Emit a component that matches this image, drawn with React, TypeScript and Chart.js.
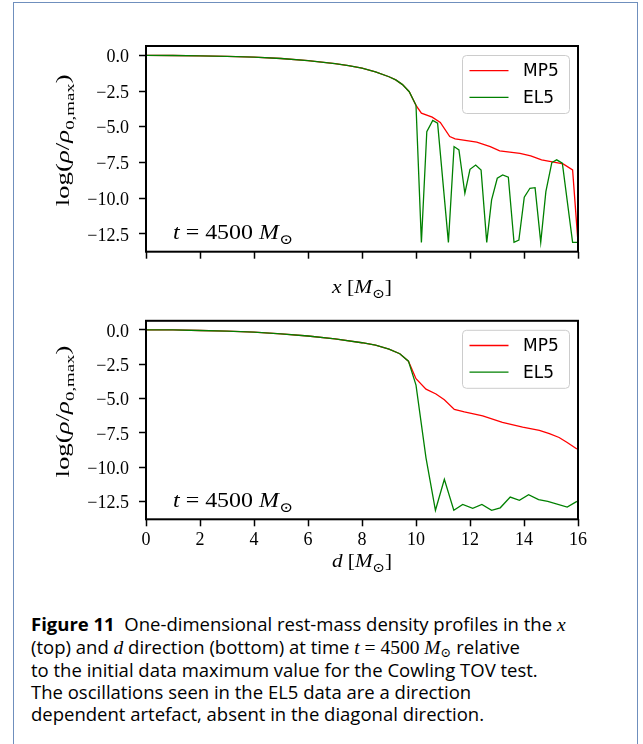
import React, { useEffect, useRef } from "react";
import { Chart, registerables } from "chart.js";
Chart.register(...registerables);

const SERIF = "'Liberation Serif', 'DejaVu Serif', serif";
const SANS = "'DejaVu Sans', sans-serif";

const xTicks = [0, 2, 4, 6, 8, 10, 12, 14, 16];
const yTicks = [0, -2.5, -5, -7.5, -10, -12.5];

// Top panel (x direction)
const topMP5X = [0, 1, 2, 3, 4, 5, 6, 7, 7.5, 8, 8.5, 9, 9.25, 9.5, 9.75, 10, 10.2, 10.6, 10.9, 11.25, 11.45, 12.25, 12.75, 13.1, 13.85, 14.25, 14.65, 15.2, 15.45, 15.8, 16];
const topMP5Y = [0, -0.01, -0.03, -0.07, -0.12, -0.22, -0.37, -0.58, -0.72, -0.9, -1.15, -1.5, -1.72, -2.05, -2.55, -3.5, -4.05, -4.33, -4.7, -5.69, -5.85, -6.08, -6.39, -6.69, -6.86, -7.04, -7.32, -7.51, -7.6, -8.03, -13.1];
const topEL5X = [0, 1, 2, 3, 4, 5, 6, 7, 7.5, 8, 8.5, 9, 9.25, 9.5, 9.75, 10, 10.2, 10.4, 10.62, 10.8, 11.2, 11.41, 11.59, 11.81, 12.0, 12.21, 12.41, 12.62, 12.8, 13.01, 13.21, 13.42, 13.63, 13.81, 14.01, 14.22, 14.41, 14.62, 14.81, 15.03, 15.21, 15.42, 15.8, 16];
const topEL5Y = [0, -0.01, -0.03, -0.07, -0.12, -0.22, -0.37, -0.58, -0.72, -0.9, -1.15, -1.5, -1.72, -2.05, -2.55, -3.5, -13.1, -5.34, -4.56, -4.75, -13.1, -6.39, -6.62, -9.66, -7.98, -7.68, -8.03, -13.1, -10.13, -8.61, -8.38, -8.54, -13.1, -12.94, -9.94, -9.31, -9.27, -13.1, -9.55, -7.51, -7.32, -7.56, -13.1, -13.1];

// Bottom panel (d direction)
const botMP5X = [0, 1, 2, 3, 4, 5, 6, 7, 8, 8.5, 9, 9.4, 9.72, 10.0, 10.37, 10.74, 11.05, 11.42, 11.79, 12.47, 13.2, 13.95, 14.57, 14.94, 15.3, 15.6, 15.96];
const botMP5Y = [0, -0.01, -0.05, -0.1, -0.17, -0.29, -0.45, -0.66, -0.94, -1.12, -1.4, -1.74, -2.28, -3.56, -4.32, -4.67, -5.09, -5.8, -5.98, -6.26, -6.74, -7.09, -7.32, -7.56, -7.84, -8.21, -8.68];
const botEL5X = [0, 1, 2, 3, 4, 5, 6, 7, 8, 8.5, 9, 9.4, 9.72, 10.0, 10.37, 10.72, 11.05, 11.4, 11.73, 12.1, 12.44, 12.8, 13.12, 13.49, 13.83, 14.17, 14.54, 14.88, 15.6, 15.96];
const botEL5Y = [0, -0.01, -0.05, -0.1, -0.17, -0.29, -0.45, -0.66, -0.94, -1.12, -1.4, -1.74, -2.28, -4.03, -9.32, -13.14, -10.89, -13.14, -12.72, -13.0, -12.72, -13.14, -12.96, -12.18, -12.42, -12.01, -12.37, -12.49, -12.91, -12.49];

const seriesNames = ["MP5", "EL5"];
const seriesColors = ["#ff0000", "#008000"];

type Seg = { t: string; it?: boolean; sub?: boolean };

function drawRich(ctx: CanvasRenderingContext2D, segs: Seg[], x: number, y: number, size: number, align: "left" | "center", target: number) {
  const fontFor = (s: Seg) => `${s.it ? "italic " : ""}${s.sub ? size * 0.7 : size}px ${SERIF}`;
  let total = 0;
  const widths = segs.map((s) => {
    ctx.font = fontFor(s);
    const w = ctx.measureText(s.t).width;
    total += w;
    return w;
  });
  const k = target / total;
  const start = align === "center" ? x - target / 2 : x;
  ctx.save();
  ctx.translate(start, y);
  ctx.scale(k, 1);
  ctx.textAlign = "left";
  ctx.textBaseline = "alphabetic";
  let cx = 0;
  segs.forEach((s, i) => {
    ctx.font = fontFor(s);
    ctx.fillText(s.t, cx, s.sub ? size * 0.25 : 0);
    cx += widths[i];
  });
  ctx.restore();
}

function makeDecor(xName: string) {
  return {
    id: "decor",
    afterDraw(chart: any) {
      const { ctx, chartArea: a } = chart;
      ctx.save();
      ctx.fillStyle = "#000";
      // frame
      ctx.strokeStyle = "#000";
      ctx.lineWidth = 2;
      ctx.strokeRect(a.left, a.top, a.right - a.left, a.bottom - a.top);
      // legend
      const bw = 107, bh = 58;
      const bx = a.right - 9 - bw, by = a.top + 9;
      ctx.beginPath();
      ctx.roundRect(bx + 0.5, by + 0.5, bw, bh, 4);
      ctx.fillStyle = "rgba(255,255,255,0.8)";
      ctx.fill();
      ctx.strokeStyle = "#cccccc";
      ctx.lineWidth = 1;
      ctx.stroke();
      chart.data.datasets.forEach((ds: any, i: number) => {
        const cy = by + 15.7 + i * 26.6;
        ctx.beginPath();
        ctx.moveTo(bx + 7.5, cy);
        ctx.lineTo(bx + 46.5, cy);
        ctx.strokeStyle = ds.borderColor;
        ctx.lineWidth = 1.3;
        ctx.stroke();
        ctx.fillStyle = "#000";
        ctx.font = `17px ${SANS}`;
        ctx.textAlign = "left";
        ctx.textBaseline = "middle";
        ctx.fillText(ds.label, bx + 61, cy + 1);
      });
      ctx.fillStyle = "#000";
      // annotation
      drawRich(ctx, [{ t: "t", it: true }, { t: " = 4500 " }, { t: "M", it: true }, { t: "\u2299", sub: true }], a.left + 27, a.bottom - 12.4, 20, "left", 120);
      // x title
      const xTitleY = chart.options.scales.x.ticks.display ? a.bottom + 48 : a.bottom + 41.6;
      drawRich(ctx, [{ t: xName, it: true }, { t: " [" }, { t: "M", it: true }, { t: "\u2299", sub: true }, { t: "]" }], (a.left + a.right) / 2, xTitleY, 19, "center", 60);
      // y title
      ctx.save();
      ctx.translate(69, (a.top + a.bottom) / 2 - 8.5);
      ctx.rotate(-Math.PI / 2);
      drawRich(ctx, [{ t: "log(" }, { t: "\u03c1", it: true }, { t: "/" }, { t: "\u03c1", it: true }, { t: "0,max", sub: true }, { t: ")" }], 0, 0, 19, "center", 132);
      ctx.restore();
      ctx.restore();
    },
  };
}

function bounds(arrs: number[][]) {
  const all = arrs.flat();
  const mn = Math.min(...all), mx = Math.max(...all);
  const p = (mx - mn) * 0.05;
  return { min: mn - p, max: mx + p };
}

function PanelChart(props: { mp5x: number[]; mp5y: number[]; el5x: number[]; el5y: number[]; xName: string; showXLabels: boolean; padTop: number; xAxisH: number; height: number }) {
  const ref = useRef<HTMLCanvasElement>(null);
  useEffect(() => {
    const b = bounds([props.mp5y, props.el5y]);
    const toPts = (xs: number[], ys: number[]) => xs.map((x, i) => ({ x, y: ys[i] }));
    const chart = new Chart(ref.current as HTMLCanvasElement, {
      type: "line",
      data: {
        datasets: [
          { label: seriesNames[0], data: toPts(props.mp5x, props.mp5y), borderColor: seriesColors[0], borderWidth: 1.3, pointRadius: 0, tension: 0, fill: false, order: 1 },
          { label: seriesNames[1], data: toPts(props.el5x, props.el5y), borderColor: seriesColors[1], borderWidth: 1.3, pointRadius: 0, tension: 0, fill: false, order: 0 },
        ],
      },
      options: {
        animation: false,
        responsive: false,
        devicePixelRatio: 1,
        layout: { padding: { top: props.padTop, right: 65, left: 0, bottom: 0 } },
        plugins: { legend: { display: false }, tooltip: { enabled: false } },
        scales: {
          x: {
            type: "linear",
            min: 0,
            max: 16,
            afterBuildTicks: (s: any) => { s.ticks = xTicks.map((v) => ({ value: v })); },
            afterFit: (s: any) => { s.height = props.xAxisH; },
            grid: { display: true, drawOnChartArea: false, drawTicks: true, tickLength: 7, tickWidth: 1.5, tickColor: "#000" },
            border: { display: false },
            ticks: { display: props.showXLabels, maxRotation: 0, padding: 3, color: "#000", font: { family: SERIF, size: 18 }, callback: (v: any) => String(v) },
          },
          y: {
            type: "linear",
            min: b.min,
            max: b.max,
            afterBuildTicks: (s: any) => { s.ticks = yTicks.map((v) => ({ value: v })); },
            afterFit: (s: any) => { s.width = 146; },
            grid: { display: true, drawOnChartArea: false, drawTicks: true, tickLength: 7, tickWidth: 1.5, tickColor: "#000" },
            border: { display: false },
            ticks: { padding: 10, labelOffset: 2, color: "#000", font: { family: SERIF, size: 18 }, callback: (v: any) => Number(v).toFixed(1).replace("-", "\u2212") },
          },
        },
      },
      plugins: [makeDecor(props.xName)],
    } as any);
    return () => chart.destroy();
  }, []);
  return <canvas ref={ref} width={643} height={props.height} style={{ display: "block", width: 643, height: props.height }} />;
}

const mathI: React.CSSProperties = { fontFamily: SERIF, fontStyle: "italic", fontSize: 19.5 };
const mathR: React.CSSProperties = { fontFamily: SERIF, fontSize: 19.5 };

export default function App() {
  return (
    <div style={{ position: "absolute", left: 0, top: 0, width: 643, height: 744, overflow: "hidden", background: "#fff" }}>
      <div style={{ position: "absolute", left: 13, top: 2, width: 625, height: 800, border: "1px solid #6f8fbd", boxSizing: "border-box" }} />
      <div style={{ position: "absolute", left: 0, top: 0 }}>
        <PanelChart mp5x={topMP5X} mp5y={topMP5Y} el5x={topEL5X} el5y={topEL5Y} xName="x" showXLabels={false} padTop={46} xAxisH={48.3} height={300} />
      </div>
      <div style={{ position: "absolute", left: 0, top: 300 }}>
        <PanelChart mp5x={botMP5X} mp5y={botMP5Y} el5x={botEL5X} el5y={botEL5Y} xName="d" showXLabels={true} padTop={13.5} xAxisH={80.7} height={300} />
      </div>
      <div style={{ position: "absolute", left: 31, top: 613, fontFamily: "'Open Sans', sans-serif", fontSize: 18.5, lineHeight: "22px", color: "#000", whiteSpace: "nowrap" }}>
        <div><b>Figure 11</b>&nbsp; One-dimensional rest-mass density profiles in the <span style={mathI}>x</span></div>
        <div>(top) and <span style={mathI}>d</span> direction (bottom) at time <span style={mathI}>t</span> <span style={mathR}>= 4500</span> <span style={mathI}>M</span><sub style={{ fontFamily: SERIF, fontSize: 13, verticalAlign: "-3px", lineHeight: 0 }}>⊙</sub> relative</div>
        <div>to the initial data maximum value for the Cowling TOV test.</div>
        <div>The oscillations seen in the EL5 data are a direction</div>
        <div>dependent artefact, absent in the diagonal direction.</div>
      </div>
    </div>
  );
}
